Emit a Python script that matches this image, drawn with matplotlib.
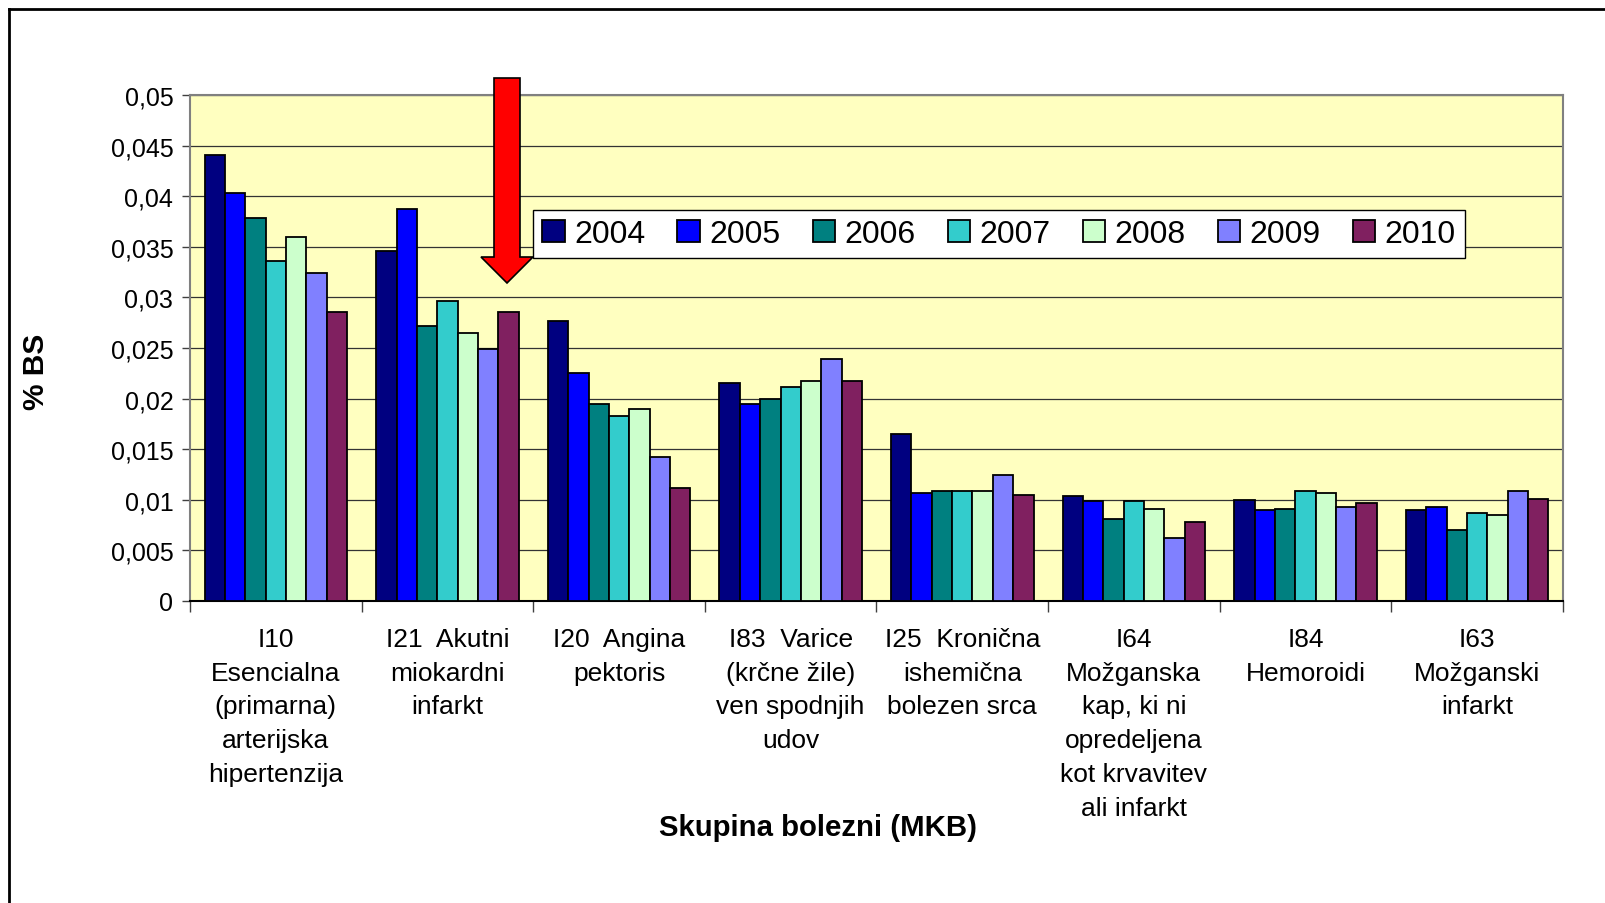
import matplotlib
matplotlib.use('Agg')
import matplotlib.pyplot as plt
from matplotlib.patches import Polygon
from matplotlib.lines import Line2D

# font (Arial-like)
plt.rcParams['font.family'] = ['Liberation Sans', 'DejaVu Sans']

# data
categories = [
    'I10\nEsencialna\n(primarna)\narterijska\nhipertenzija',
    'I21  Akutni\nmiokardni\ninfarkt',
    'I20  Angina\npektoris',
    'I83  Varice\n(krčne žile)\nven spodnjih\nudov',
    'I25  Kronična\nishemična\nbolezen srca',
    'I64\nMožganska\nkap, ki ni\nopredeljena\nkot krvavitev\nali infarkt',
    'I84\nHemoroidi',
    'I63\nMožganski\ninfarkt',
]
years = ['2004', '2005', '2006', '2007', '2008', '2009', '2010']

y2004 = [0.0441, 0.0346, 0.0277, 0.0215, 0.0165, 0.0104, 0.0100, 0.0090]
y2005 = [0.0403, 0.0387, 0.0225, 0.0195, 0.0107, 0.0099, 0.0090, 0.0093]
y2006 = [0.0378, 0.0272, 0.0195, 0.0200, 0.0109, 0.0081, 0.0091, 0.0070]
y2007 = [0.0336, 0.0296, 0.0183, 0.0211, 0.0109, 0.0099, 0.0109, 0.0087]
y2008 = [0.0360, 0.0265, 0.0190, 0.0217, 0.0109, 0.0091, 0.0107, 0.0085]
y2009 = [0.0324, 0.0249, 0.0142, 0.0239, 0.0125, 0.0062, 0.0093, 0.0109]
y2010 = [0.0286, 0.0286, 0.0112, 0.0217, 0.0105, 0.0078, 0.0097, 0.0101]
series = [y2004, y2005, y2006, y2007, y2008, y2009, y2010]

colors = ['#000080', '#0000FF', '#008080', '#33CCCC', '#CCFFCC', '#8080FF', '#802060']

yticks = [0, 0.005, 0.01, 0.015, 0.02, 0.025, 0.03, 0.035, 0.04, 0.045, 0.05]
ytick_labels = ['0', '0,005', '0,01', '0,015', '0,02', '0,025', '0,03', '0,035', '0,04', '0,045', '0,05']

W, H = 1606, 904
fig = plt.figure(figsize=(W / 100, H / 100), dpi=100)
ax = fig.add_axes([190 / W, 1 - 602 / H, (1563 - 190) / W, (602 - 96) / H])

# bars
n = len(years)
w = 0.83 / n
for j in range(n):
    pos = [i + (j - (n - 1) / 2) * w for i in range(len(categories))]
    ax.bar(pos, series[j], width=w, color=colors[j], edgecolor='black',
           linewidth=1.3, label=years[j], zorder=3)

ax.set_facecolor('#FFFFC0')
ax.set_xlim(-0.5, len(categories) - 0.5)
ax.set_ylim(0, 0.05)

# y axis
ax.set_yticks(yticks)
ax.set_yticklabels(ytick_labels, fontsize=18)
ax.tick_params(axis='y', length=6, pad=6, width=1, color='#404040')
ax.grid(axis='y', color='#333333', linewidth=0.9, zorder=0)
ax.set_axisbelow(True)

# x axis: ticks on the borders, labels in the middle
ax.set_xticks([i - 0.5 for i in range(len(categories) + 1)])
ax.set_xticklabels([])
ax.set_xticks(list(range(len(categories))), minor=True)
ax.set_xticklabels(categories, minor=True, fontsize=19, linespacing=1.52, va='top')
ax.tick_params(axis='x', which='minor', length=0, pad=18.5)
ax.tick_params(axis='x', which='major', length=8, width=1, color='#404040')

for s in ['left', 'top', 'right']:
    ax.spines[s].set_color('#808080')
    ax.spines[s].set_linewidth(1.5)
ax.spines['bottom'].set_color('black')
ax.spines['bottom'].set_linewidth(1.5)

# legend
leg = ax.legend(loc='center', bbox_to_anchor=(999 / W, 1 - 235 / H),
                bbox_transform=fig.transFigure, ncol=7, fontsize=23,
                fancybox=False, edgecolor='black', framealpha=1,
                handlelength=0.7, handleheight=0.7, handletextpad=0.3,
                columnspacing=1.0, borderpad=0.28, borderaxespad=0)
leg.get_frame().set_linewidth(1.0)

# red arrow
arrow_px = [(494, 79), (520, 79), (520, 258), (533, 258), (507, 284), (481, 258), (494, 258)]
arrow = Polygon([(px / W, 1 - py / H) for px, py in arrow_px], closed=True,
                facecolor='#FF0000', edgecolor='black', linewidth=1.2,
                transform=fig.transFigure, clip_on=False, zorder=4)
ax.add_patch(arrow)

# axis titles
fig.text(818 / W, 1 - 828 / H, 'Skupina bolezni (MKB)', ha='center', va='center',
         fontsize=21.2, fontweight='bold')
fig.text(36 / W, 1 - 372 / H, '% BS', rotation=90, ha='center', va='center',
         fontsize=21.5, fontweight='bold')

# outer frame (left and top edge visible)
fig.add_artist(Line2D([9 / W, 9 / W], [0, 1 - 10 / H], color='black', linewidth=2,
                      transform=fig.transFigure))
fig.add_artist(Line2D([9 / W, 1], [1 - 10 / H, 1 - 10 / H], color='black', linewidth=2,
                      transform=fig.transFigure))

fig.savefig('out.png', dpi=100)
